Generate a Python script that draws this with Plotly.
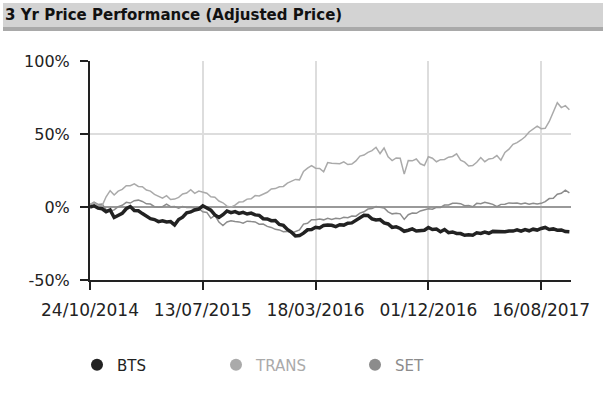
import plotly.graph_objects as go

# ---------------- data ----------------
tick_labels = ["24/10/2014", "13/07/2015", "18/03/2016", "01/12/2016", "16/08/2017"]
tick_pos = [0, 28, 56, 84, 112]

y_tick_vals = [-50, 0, 50, 100]
y_tick_text = ["-50%", "0%", "50%", "100%"]

series_names = ["BTS", "TRANS", "SET"]

bts = [0, 0.8, -0.8, -1.2, -3.2, -2, -7.2, -5.6, -4.4, -1.2,
       0.3, -2.4, -2.6, -4.5, -6.2, -8, -8.6, -10, -9.5, -10.3,
       -10, -12.3, -8.6, -7, -4, -3.4, -2, -1.4, 0.8, -0.8,
       -2.2, -5.4, -7.2, -5.3, -2.7, -3.9, -3.2, -4.4, -3.7, -4.8,
       -4.2, -5.4, -5.7, -8, -8.2, -9.4, -9.3, -12, -12.6, -15.4,
       -17.2, -19.8, -19.6, -17.9, -15.6, -15.4, -13.9, -14.4, -12.6, -12.3,
       -12.5, -13.4, -12.1, -12.4, -11.1, -10.9, -9.1, -7.9, -5.7, -5.8,
       -8.1, -8.9, -8.6, -10.9, -11.6, -14, -13.6, -14.7, -16.6, -15.9,
       -15, -16.4, -16.1, -15.9, -14, -15.4, -15.1, -16.9, -15.4, -17.6,
       -17.1, -18.1, -18.2, -19.4, -19, -19.3, -17.7, -18.1, -17.2, -18,
       -16.7, -17, -16.7, -17, -16.5, -16.5, -15.7, -16.6, -15.5, -16.3,
       -15.2, -15.8, -14.7, -14, -15.4, -15, -15.9, -15.7, -16.8, -17]

trans = [2, 2.8, 1.2, 0.8, 7, 11.2, 8.2, 10.9, 12.1, 14.6,
         14.6, 15.8, 14.1, 13.9, 11.6, 10.9, 8.6, 7.4, 6.1, 7.8,
         5.1, 5.4, 6.6, 8.9, 9.6, 11.9, 9.3, 10.9, 10.4, 9.4,
         7, 6.7, 4.1, 2.9, 0.6, -0.1, 1.3, 3.4, 3.6, 5.4,
         5.6, 7.8, 7.6, 9, 10.1, 12.4, 12.6, 13.9, 14.1, 16.4,
         17.6, 18.9, 18.6, 24.4, 26.6, 28.4, 26.6, 26.4, 24.1, 30.4,
         29.9, 29.9, 29.6, 30.9, 29.1, 29.4, 31.6, 34.9, 35.6, 37.4,
         38.6, 40.9, 36.6, 40.4, 34.4, 31.8, 33.6, 33.4, 22.5, 31.8,
         31.6, 32.9, 29.6, 28.4, 34.4, 33.4, 31, 32.4, 32.6, 34.1,
         34.6, 36.4, 32.1, 30.7, 28.1, 28.4, 30.6, 33.9, 31, 32.9,
         33.3, 35.2, 32.1, 37.4, 39.6, 42.9, 44.1, 45.9, 48.1, 51.4,
         53.6, 55.4, 53.6, 53.9, 58.6, 65.4, 71.4, 68.1, 69.4, 66.6]

set_index = [1.5, 3.3, 1.7, 2, -1.8, -2.7, -2, 0.3, 1.2, 3.2,
             2.7, 4.3, 4.7, 3.8, 2.2, 2, 0.2, -0.2, 0.2, 2,
             0.2, 0.3, -0.8, 0.3, -0.3, -0.2, -0.8, -1.2, -3.3, -3.7,
             -7.7, -5.7, -10.3, -12.7, -10.3, -9.4, -10, -10.2, -11.1, -9.7,
             -10, -10.2, -11.8, -11.7, -13.3, -14, -15.3, -15.7, -16.9, -16.7,
             -18, -16.7, -15.7, -11.7, -11.1, -8.7, -8.8, -8.2, -8.8, -7.7,
             -8.5, -7.7, -8.1, -7.1, -7.3, -6.2, -6.3, -4.2, -3.3, -1.4,
             -1.1, 0.3, -0.1, -0.7, -3.3, -4.7, -4.3, -4.7, -8.5, -5.3,
             -4.2, -4.3, -2.7, -2, -1.2, -1.5, -0.2, -0.3, 1.3, 1.4,
             2.5, 2.6, 2.3, 0.9, 1.1, 0.2, 2.5, 2.2, 3.2, 2.6,
             1.8, 0.2, 1.8, 1.9, 2.8, 2.6, 2.8, 2.1, 2.7, 1.9,
             2.5, 2, 2.5, 3.7, 5.8, 6, 8.8, 9.4, 11.6, 9.7]

# ---------------- layout helpers ----------------
W, H = 606, 398
ML, MR, MT, MB = 90, 35, 61, 118
PW, PH = W - ML - MR, H - MT - MB


def px(xp):
    return (xp - ML) / PW


def py(yp):
    return (H - MB - yp) / PH


colors = {"BTS": "#222222", "TRANS": "#aaaaaa", "SET": "#8c8c8c"}
widths = {"BTS": 3.5, "TRANS": 1.5, "SET": 1.5}
values = {"BTS": bts, "TRANS": trans, "SET": set_index}
x_idx = list(range(len(bts)))

fig = go.Figure()

# lines (SET first, BTS on top)
for name in ["SET", "TRANS", "BTS"]:
    fig.add_trace(go.Scatter(
        x=x_idx, y=values[name], mode="lines", name=name,
        line=dict(color=colors[name], width=widths[name]),
        showlegend=False, legendgroup=name, hoverinfo="skip"))

# legend entries (circle markers)
for rank, name in enumerate(series_names):
    fig.add_trace(go.Scatter(
        x=[None], y=[None], mode="markers",
        name=f"<span style='color:{colors[name]}'>{name}</span>",
        marker=dict(color=colors[name], size=15, symbol="circle"),
        legendgroup=name, legendrank=rank + 1, showlegend=True))

font_family = "DejaVu Sans"

fig.update_layout(
    width=W, height=H,
    margin=dict(l=ML, r=MR, t=MT, b=MB, pad=0),
    paper_bgcolor="white", plot_bgcolor="white",
    font=dict(family=font_family, color="#222222"),
    showlegend=True,
    legend=dict(
        orientation="h", x=px(77), y=py(365), xanchor="left", yanchor="middle",
        font=dict(size=15, family=font_family),
        entrywidth=94, entrywidthmode="pixels",
        bgcolor="rgba(0,0,0,0)", itemsizing="constant"),
    xaxis=dict(
        range=[0, 119.4], tickvals=tick_pos, ticktext=tick_labels,
        showgrid=True, gridcolor="#dddddd", gridwidth=1.5,
        zeroline=False, showline=True, linecolor="#222222", linewidth=2,
        ticks="outside", ticklen=8, tickwidth=1.5, tickcolor="#222222",
        ticklabelstandoff=6,
        tickfont=dict(size=17, family=font_family, color="#222222")),
    yaxis=dict(
        range=[-50, 100], tickvals=y_tick_vals, ticktext=y_tick_text,
        showgrid=True, gridcolor="#dddddd", gridwidth=1.5,
        zeroline=True, zerolinecolor="#999999", zerolinewidth=2,
        showline=True, linecolor="#222222", linewidth=2,
        ticks="outside", ticklen=8, tickwidth=1.5, tickcolor="#222222",
        ticklabelstandoff=7,
        tickfont=dict(size=16, family=font_family, color="#222222")),
    shapes=[
        dict(type="rect", xref="paper", yref="paper",
             x0=px(3), x1=px(603), y0=py(27), y1=py(3),
             fillcolor="#d3d3d3", line=dict(width=0), layer="below"),
        dict(type="rect", xref="paper", yref="paper",
             x0=px(3), x1=px(603), y0=py(31), y1=py(27),
             fillcolor="#a9a9a9", line=dict(width=0), layer="below"),
    ],
    annotations=[
        dict(text="<b>3 Yr Price Performance (Adjusted Price)</b>",
             xref="paper", yref="paper", x=px(3), y=py(15),
             xanchor="left", yanchor="middle", showarrow=False,
             font=dict(size=15, family=font_family, color="#111111")),
    ],
)

fig.write_html("out.html", config={"displayModeBar": False},
               post_script="document.body.style.margin='0px';")
